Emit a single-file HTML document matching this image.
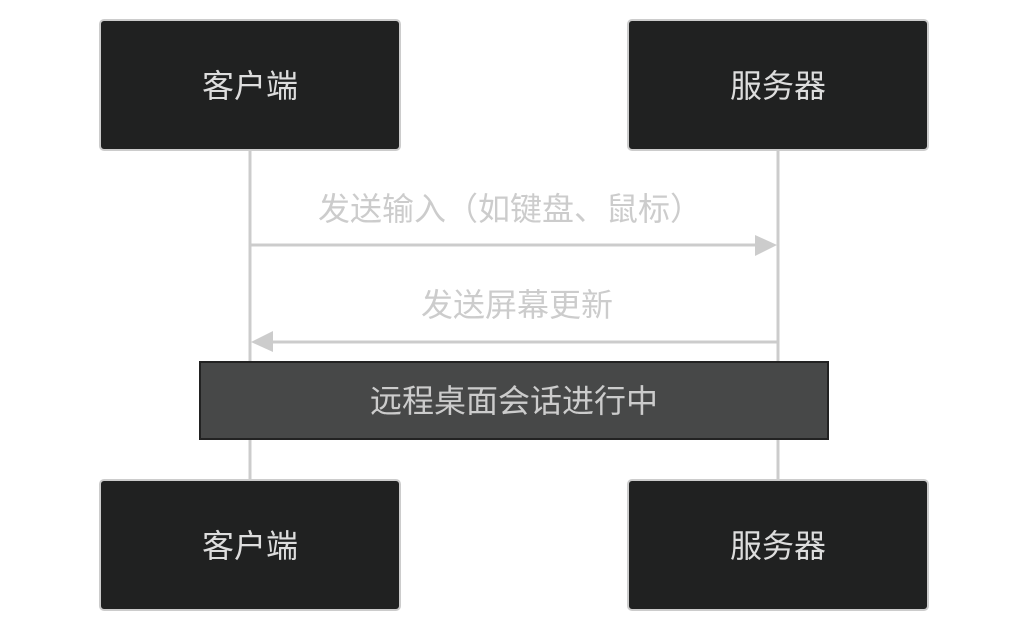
<!DOCTYPE html>
<html><head><meta charset="utf-8"><style>html,body{margin:0;padding:0;background:#fff;}svg{display:block}</style></head>
<body>
<svg width="1028" height="632" viewBox="0 0 1028 632" xmlns="http://www.w3.org/2000/svg" font-family="'Liberation Sans','Noto Sans CJK SC',sans-serif">
<line x1="250" y1="150" x2="250" y2="480" stroke="#cccccc" stroke-width="3"/>
<line x1="778" y1="150" x2="778" y2="480" stroke="#cccccc" stroke-width="3"/>
<g fill="#202121" stroke="#cccccc" stroke-width="2">
<rect x="100" y="20" width="300" height="130" rx="4"/>
<rect x="628" y="20" width="300" height="130" rx="4"/>
<rect x="100" y="480" width="300" height="130" rx="4"/>
<rect x="628" y="480" width="300" height="130" rx="4"/>
</g>
<g fill="#dddddd" font-size="32" text-anchor="middle">
<text x="250" y="97">客户端</text>
<text x="778" y="97">服务器</text>
<text x="250" y="557">客户端</text>
<text x="778" y="557">服务器</text>
</g>
<line x1="250" y1="245" x2="760" y2="245" stroke="#cccccc" stroke-width="3"/>
<polygon points="755,235 777,245 755,256" fill="#cccccc"/>
<line x1="268" y1="342" x2="778" y2="342" stroke="#cccccc" stroke-width="3"/>
<polygon points="273,331 251,342 273,352" fill="#cccccc"/>
<g fill="#cccccc" font-size="32" text-anchor="middle">
<text x="510" y="220">发送输入（如键盘、鼠标）</text>
<text x="517" y="316">发送屏幕更新</text>
</g>
<rect x="200" y="362" width="628" height="77" fill="#474848" stroke="#222" stroke-width="2"/>
<text x="514" y="412" fill="#cccccc" font-size="32" text-anchor="middle">远程桌面会话进行中</text>
</svg>
</body></html>
